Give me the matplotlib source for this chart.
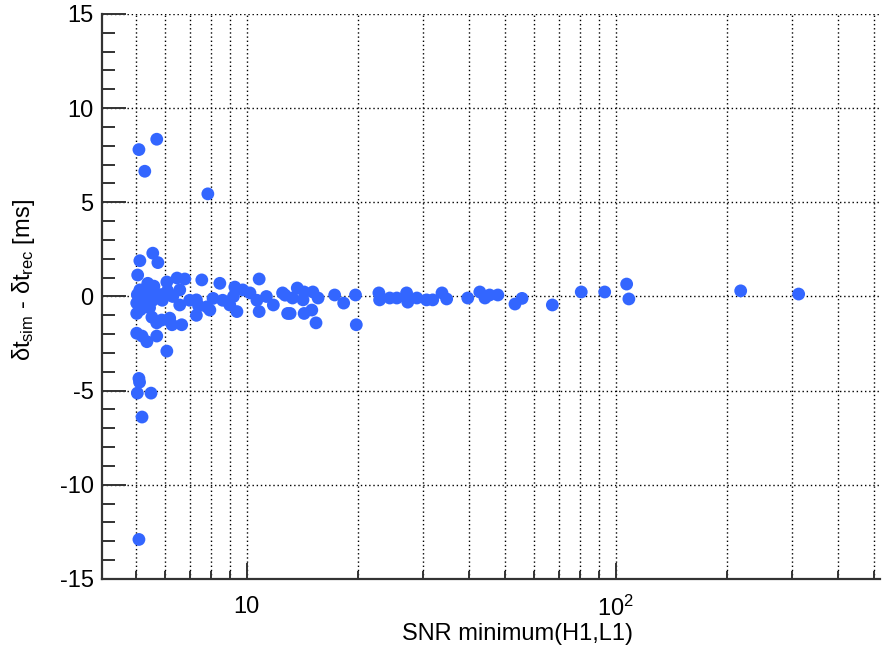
import numpy as np
import matplotlib
matplotlib.use("Agg")
import matplotlib.pyplot as plt
from matplotlib.ticker import FixedLocator, NullFormatter

plt.rcParams['font.family'] = ['Liberation Sans', 'DejaVu Sans']
plt.rcParams['mathtext.fontset'] = 'custom'
plt.rcParams['mathtext.rm'] = 'Liberation Sans'
plt.rcParams['mathtext.it'] = 'Liberation Sans'
plt.rcParams['axes.unicode_minus'] = False

# SNR minimum (H1,L1)
snr = [5.1, 5.7, 5.29, 7.84, 5.1, 5.2, 5.05, 5.5, 5.1, 5.12, 6.07,
       5.13, 5.56, 5.74, 5.06, 5.39, 6.07, 6.47, 6.79, 7.55, 8.45, 9.28, 10.8, 12.5,
       5.03, 6.58, 7.3, 7.3, 7.79, 7.94, 8.99, 9.4, 10.8, 11.8, 12.9,
       5.03, 5.03, 5.2, 5.36, 5.53, 5.7, 5.7, 5.88, 6.18, 6.27, 6.66,
       5.13, 5.36, 5.56, 5.9, 6.3, 6.58, 6.1, 7.0, 7.4, 8.1, 8.6, 9.2, 9.75, 10.2,
       10.65, 11.3, 5.25, 5.45, 5.15, 5.6, 5.3, 5.8, 6.0, 5.05, 5.4, 5.2,
       12.7, 13.7, 14.3, 15.1, 13.3, 14.2, 15.6, 13.1, 14.3, 15.0, 15.4,
       17.3, 18.3, 19.7, 19.8, 22.8, 22.9, 24.4, 25.5, 27.1, 27.3, 28.9,
       30.7, 31.9, 33.8, 34.8, 39.7, 42.8, 44.2, 45.5, 47.9, 53.3, 55.7,
       67.3, 80.6, 93.3, 107.0, 108.5, 218.0, 313.0]
# delta t_sim - delta t_rec [ms]
dt = [7.8, 8.35, 6.65, 5.45, -12.9, -6.4, -5.13, -5.13, -4.35, -4.55, -2.9,
      1.9, 2.3, 1.8, 1.14, 0.7, 0.77, 0.98, 0.93, 0.88, 0.7, 0.5, 0.93, 0.19,
      -0.35, -0.45, -0.18, -1.0, -0.55, -0.72, -0.45, -0.8, -0.8, -0.45, -0.9,
      -0.9, -1.95, -2.1, -2.4, -1.1, -1.4, -2.1, -1.25, -1.15, -1.5, -1.5,
      0.35, 0.18, -0.2, -0.2, 0.0, 0.35, 0.3, -0.2, -0.5, -0.1, -0.2, 0.0, 0.35, 0.19,
      -0.2, 0.0, 0.05, -0.6, -0.7, 0.55, 0.4, 0.1, 0.15, 0.1, 0.25, -0.35,
      0.07, 0.45, 0.24, 0.24, -0.08, -0.18, -0.08, -0.9, -0.9, -0.72, -1.4,
      0.08, -0.35, 0.08, -1.5, 0.19, -0.18, -0.08, -0.08, 0.19, -0.3, -0.08,
      -0.18, -0.18, 0.19, -0.13, -0.08, 0.24, -0.08, 0.08, 0.08, -0.4, -0.1,
      -0.45, 0.24, 0.24, 0.66, -0.13, 0.3, 0.13]

fig = plt.figure(figsize=(8.83, 6.51), dpi=100)
ax = fig.add_axes([0.1155, 0.1106, 0.8811, 0.8679])

ax.scatter(snr, dt, s=85, color='#3366FF', edgecolors='none', zorder=3)

ax.set_xscale('log')
ax.set_xlim(4.05, 520)
ax.set_ylim(-15, 15)

ax.xaxis.set_major_locator(FixedLocator([10, 100]))
ax.set_xticklabels(['10', r'$10^2$'])
minors = [5, 6, 7, 8, 9, 20, 30, 40, 50, 60, 70, 80, 90, 200, 300, 400, 500]
ax.xaxis.set_minor_locator(FixedLocator(minors))
ax.xaxis.set_minor_formatter(NullFormatter())
ax.set_yticks([-15, -10, -5, 0, 5, 10, 15])
ax.yaxis.set_minor_locator(FixedLocator([v for v in range(-15, 16) if v % 5]))

ax.tick_params(axis='both', which='both', direction='in', labelsize=17, width=1.4, color='#333333')
ax.tick_params(axis='y', which='major', length=17, pad=6)
ax.tick_params(axis='y', which='minor', length=9)
ax.tick_params(axis='x', which='major', length=11.5, pad=12)
ax.tick_params(axis='x', which='minor', length=5.5)

ax.grid(True, which='major', axis='y', linestyle=(0, (1, 2)), color='black', linewidth=1)
ax.grid(True, which='both', axis='x', linestyle=(0, (1, 2)), color='black', linewidth=1)
ax.set_axisbelow(True)

for side in ['top', 'right']:
    ax.spines[side].set_visible(False)
for side in ['left', 'bottom']:
    ax.spines[side].set_linewidth(1.6)
    ax.spines[side].set_color('#333333')

fig.text(517 / 883, 1 - 634 / 651, 'SNR minimum(H1,L1)', ha='center', va='center', fontsize=17)
fig.text(24 / 883, 1 - 280 / 651, r'$\delta t_{sim}$ - $\delta t_{rec}$ [ms]',
         ha='center', va='center', rotation=90, fontsize=17)

fig.savefig('out.png', dpi=100)
